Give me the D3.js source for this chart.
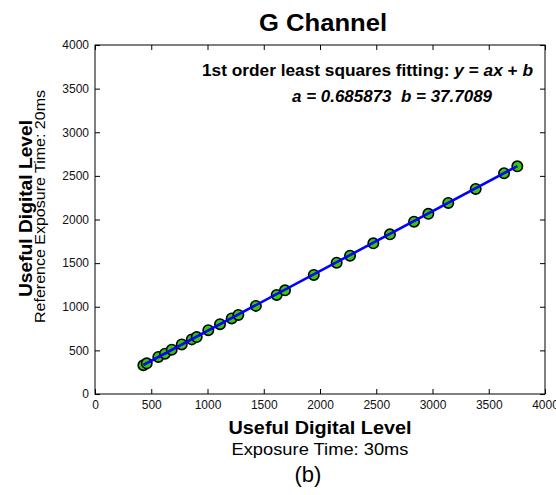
<!DOCTYPE html>
<html>
<head>
<meta charset="utf-8">
<script src="https://cdn.jsdelivr.net/npm/d3@7/dist/d3.min.js"></script>
<style>
  html, body { margin: 0; padding: 0; background: #fff; }
  svg { display: block; font-family: Arial, "Liberation Sans", sans-serif; }
</style>
</head>
<body>
<svg id="chart" width="556" height="495"></svg>
<script>
// ---- data ----
const xValues = [430, 460, 563, 622, 682, 771, 860, 904, 1007, 1111, 1215, 1274, 1430, 1615, 1689, 1945,
                 2148, 2267, 2474, 2622, 2836, 2963, 3140, 3384, 3636, 3754];
const yValues = [330, 352, 425, 462, 508, 568, 626, 652, 731, 800, 866, 906, 1010, 1135, 1188, 1365,
                 1505, 1585, 1727, 1830, 1975, 2065, 2190, 2350, 2530, 2610];
const fitA = 0.685873;
const fitB = 37.7089;
const xTicks = [0, 500, 1000, 1500, 2000, 2500, 3000, 3500, 4000];
const yTicks = [0, 500, 1000, 1500, 2000, 2500, 3000, 3500, 4000];

// ---- layout ----
const svg = d3.select("#chart");
const L = 95, R = 545, T = 45, B = 394;
const x = d3.scaleLinear().domain([0, 4000]).range([L, R]);
const y = d3.scaleLinear().domain([0, 4000]).range([B, T]);
const fmt = d3.format("d");

// axes (ticks inward, MATLAB box style)
const gx = svg.append("g").attr("transform", `translate(0,${B})`)
  .call(d3.axisBottom(x).tickValues(xTicks).tickFormat(fmt).tickSizeInner(-5).tickSizeOuter(0).tickPadding(6));
const gy = svg.append("g").attr("transform", `translate(${L},0)`)
  .call(d3.axisLeft(y).tickValues(yTicks).tickFormat(fmt).tickSizeInner(-5).tickSizeOuter(0).tickPadding(6));
const gxt = svg.append("g").attr("transform", `translate(0,${T})`)
  .call(d3.axisTop(x).tickValues(xTicks).tickSizeInner(-5).tickSizeOuter(0).tickFormat(""));
const gyr = svg.append("g").attr("transform", `translate(${R},0)`)
  .call(d3.axisRight(y).tickValues(yTicks).tickSizeInner(-5).tickSizeOuter(0).tickFormat(""));
[gx, gy, gxt, gyr].forEach(g => {
  g.select(".domain").remove();
  g.selectAll("line").attr("stroke", "#000");
  g.selectAll("text").attr("font-size", 12).attr("fill", "#111")
    .attr("font-family", "Arial, 'Liberation Sans', sans-serif");
});
svg.append("rect").attr("x", L).attr("y", T).attr("width", R - L).attr("height", B - T)
  .attr("fill", "none").attr("stroke", "#000").attr("stroke-width", 1);

// points
svg.append("g").selectAll("circle").data(xValues.map((v, i) => [v, yValues[i]])).join("circle")
  .attr("cx", d => x(d[0])).attr("cy", d => y(d[1])).attr("r", 5.2)
  .attr("fill", "#33cc00").attr("stroke", "#000").attr("stroke-width", 1.6);

// fit line
const x0 = d3.min(xValues), x1 = d3.max(xValues);
svg.append("line")
  .attr("x1", x(x0)).attr("y1", y(fitA * x0 + fitB))
  .attr("x2", x(x1)).attr("y2", y(fitA * x1 + fitB))
  .attr("stroke", "#0000ff").attr("stroke-width", 2.6);

// title
svg.append("text").attr("x", 323).attr("y", 31).attr("text-anchor", "middle")
  .attr("font-size", 23).attr("font-weight", "bold")
  .attr("textLength", 128).attr("lengthAdjust", "spacingAndGlyphs").text("G Channel");

// annotation
const t1 = svg.append("text").attr("x", 202).attr("y", 76)
  .attr("font-size", 17).attr("font-weight", "bold")
  .attr("textLength", 331).attr("lengthAdjust", "spacingAndGlyphs");
t1.append("tspan").text("1st order least squares fitting: ");
t1.append("tspan").attr("font-style", "italic").text("y");
t1.append("tspan").text(" = ");
t1.append("tspan").attr("font-style", "italic").text("ax");
t1.append("tspan").text(" + ");
t1.append("tspan").attr("font-style", "italic").text("b");
svg.append("text").attr("x", 292).attr("y", 102)
  .attr("font-size", 17).attr("font-weight", "bold").attr("font-style", "italic")
  .attr("xml:space", "preserve")
  .attr("textLength", 200).attr("lengthAdjust", "spacingAndGlyphs")
  .text(`a = ${fitA}  b = ${fitB}`);

// x labels
svg.append("text").attr("x", 320).attr("y", 434).attr("text-anchor", "middle")
  .attr("font-size", 18).attr("font-weight", "bold")
  .attr("textLength", 183).attr("lengthAdjust", "spacingAndGlyphs").text("Useful Digital Level");
svg.append("text").attr("x", 320).attr("y", 455).attr("text-anchor", "middle")
  .attr("font-size", 17)
  .attr("textLength", 177).attr("lengthAdjust", "spacingAndGlyphs").text("Exposure Time: 30ms");
svg.append("text").attr("x", 308).attr("y", 482).attr("text-anchor", "middle")
  .attr("font-size", 22).text("(b)");

// y labels
svg.append("text").attr("transform", "translate(32,208.5) rotate(-90)").attr("text-anchor", "middle")
  .attr("font-size", 18).attr("font-weight", "bold")
  .attr("textLength", 177).attr("lengthAdjust", "spacingAndGlyphs").text("Useful Digital Level");
svg.append("text").attr("transform", "translate(45,206.5) rotate(-90)").attr("text-anchor", "middle")
  .attr("font-size", 15)
  .attr("textLength", 233).attr("lengthAdjust", "spacingAndGlyphs").text("Reference Exposure Time: 20ms");
</script>
</body>
</html>
